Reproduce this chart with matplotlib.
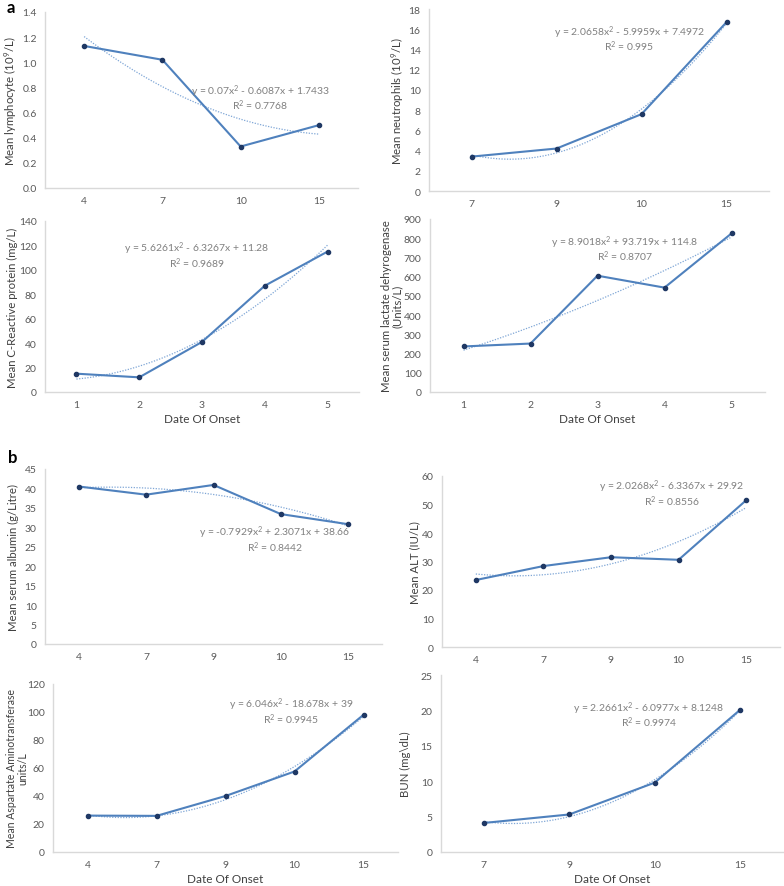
#!/usr/bin/env python3
"""
Laboratory parameters vs date of onset, with Excel-style polynomial trendlines.
"""
import numpy as np
import matplotlib
matplotlib.use('Agg')
import matplotlib.pyplot as plt

plt.rcParams['font.family'] = ['Lato', 'DejaVu Sans']
plt.rcParams['mathtext.fontset'] = 'custom'
plt.rcParams['mathtext.rm'] = 'Lato'
plt.rcParams['mathtext.default'] = 'rm'

W, H = 784, 887

# ---- data ----
lym_days = ['4', '7', '10', '15']
lym_vals = [1.13, 1.02, 0.33, 0.50]
lym_fit = [0.07, -0.6087, 1.7433]

neu_days = ['7', '9', '10', '15']
neu_vals = [3.4, 4.2, 7.6, 16.7]
neu_fit = [2.0658, -5.9959, 7.4972]

crp_days = ['1', '2', '3', '4', '5']
crp_vals = [15, 12, 41, 87, 115]
crp_fit = [5.6261, -6.3267, 11.28]

ldh_days = ['1', '2', '3', '4', '5']
ldh_vals = [237, 252, 605, 543, 825]
ldh_fit = [8.9018, 93.719, 114.8]

alb_days = ['4', '7', '9', '10', '15']
alb_vals = [40.5, 38.4, 40.9, 33.4, 30.8]
alb_fit = [-0.7929, 2.3071, 38.66]

alt_days = ['4', '7', '9', '10', '15']
alt_vals = [23.5, 28.4, 31.5, 30.6, 51.5]
alt_fit = [2.0268, -6.3367, 29.92]

ast_days = ['4', '7', '9', '10', '15']
ast_vals = [26, 25.8, 40, 57.5, 98]
ast_fit = [6.046, -18.678, 39]

bun_days = ['7', '9', '10', '15']
bun_vals = [4.1, 5.3, 9.8, 20.1]
bun_fit = [2.2661, -6.0977, 8.1248]

LINE = '#4F81BD'
MARK = '#1F3864'
TREND = '#7FA6D6'
AXCOL = '#D9D9D9'
TXT = '#404040'
EQ = '#808080'


def add_axes(fig, x0, y0, x1, y1):
    return fig.add_axes([x0 / W, 1 - y1 / H, (x1 - x0) / W, (y1 - y0) / H])


def panel(ax, days, vals, fit, yticks, ylabel, eq, r2, eqpos, fmt='{:g}', xlabel=None,
          ylabel_px=None, ylabel_size=8.2):
    n = len(days)
    idx = np.arange(n)
    xs = np.linspace(1, n, 200)
    ax.plot(xs - 1, np.polyval(fit, xs), ls=(0, (1, 1.2)), color=TREND, lw=0.9, zorder=2)
    ax.plot(idx, vals, color=LINE, lw=1.5, marker='o', ms=3.0,
            markerfacecolor=MARK, markeredgecolor=MARK, zorder=3)
    ax.set_xlim(-0.5, n - 0.5)
    ax.set_ylim(yticks[0], yticks[-1])
    ax.set_xticks(idx)
    ax.set_xticklabels(days)
    ax.set_yticks(yticks)
    ax.set_yticklabels([fmt.format(v) for v in yticks])
    ax.tick_params(length=0, labelsize=7.5, colors='#595959', pad=6)
    for s in ['top', 'right']:
        ax.spines[s].set_visible(False)
    for s in ['left', 'bottom']:
        ax.spines[s].set_color(AXCOL)
        ax.spines[s].set_linewidth(1.0)
    ax.set_ylabel(ylabel, fontsize=ylabel_size, color=TXT, linespacing=1.05)
    if ylabel_px is not None:
        # right edge of the rotated label, in figure pixels from the left
        x0 = ax.get_position().x0 * W
        wpx = ax.get_position().width * W
        ax.yaxis.set_label_coords((ylabel_px - x0) / wpx, 0.5)
    if xlabel:
        ax.set_xlabel(xlabel, fontsize=8.5, color=TXT, labelpad=3)
    ax.annotate(eq, xy=eqpos, xytext=(0, 5.2), textcoords='offset points',
                ha='center', va='center', fontsize=7.5, color=EQ)
    ax.annotate(r2, xy=eqpos, xytext=(0, -5.2), textcoords='offset points',
                ha='center', va='center', fontsize=7.5, color=EQ)
    ax.patch.set_alpha(0)


fig = plt.figure(figsize=(W / 100, H / 100), dpi=100)

ax1 = add_axes(fig, 45, 13, 358, 189)
panel(ax1, lym_days, lym_vals, lym_fit, np.arange(0, 1.41, 0.2),
      'Mean lymphocyte (10$^{9}$/L)', 'y = 0.07x$^{2}$ - 0.6087x + 1.7433', 'R$^{2}$ = 0.7768',
      (2.25, 0.72), fmt='{:.1f}', ylabel_px=19)

ax2 = add_axes(fig, 429, 10, 769, 192)
panel(ax2, neu_days, neu_vals, neu_fit, np.arange(0, 19, 2),
      'Mean neutrophils (10$^{9}$/L)', 'y = 2.0658x$^{2}$ - 5.9959x + 7.4972', 'R$^{2}$ = 0.995',
      (1.86, 15.05), ylabel_px=406)

ax3 = add_axes(fig, 45, 222, 359, 393)
panel(ax3, crp_days, crp_vals, crp_fit, np.arange(0, 141, 20),
      'Mean C-Reactive protein (mg/L)', 'y = 5.6261x$^{2}$ - 6.3267x + 11.28', 'R$^{2}$ = 0.9689',
      (1.92, 112), xlabel='Date Of Onset', ylabel_px=18)

ax4 = add_axes(fig, 430, 220, 765, 393)
panel(ax4, ldh_days, ldh_vals, ldh_fit, np.arange(0, 901, 100),
      'Mean serum lactate dehyrogenase\n(Units/L)', 'y = 8.9018x$^{2}$ + 93.719x + 114.8',
      'R$^{2}$ = 0.8707', (2.41, 746), xlabel='Date Of Onset', ylabel_px=403)

ax5 = add_axes(fig, 45, 470, 382, 645)
panel(ax5, alb_days, alb_vals, alb_fit, np.arange(0, 46, 5),
      'Mean serum albumin (g/Litre)', 'y = -0.7929x$^{2}$ + 2.3071x + 38.66', 'R$^{2}$ = 0.8442',
      (2.91, 27.0), ylabel_px=19)

ax6 = add_axes(fig, 442, 477, 780, 648)
panel(ax6, alt_days, alt_vals, alt_fit, np.arange(0, 61, 10),
      'Mean ALT (IU/L)', 'y = 2.0268x$^{2}$ - 6.3367x + 29.92', 'R$^{2}$ = 0.8556',
      (2.9, 54.0), ylabel_px=420)

ax7 = add_axes(fig, 53, 685, 398, 853)
panel(ax7, ast_days, ast_vals, ast_fit, np.arange(0, 121, 20),
      'Mean Aspartate Aminotransferase\nunits/L', 'y = 6.046x$^{2}$ - 18.678x + 39', 'R$^{2}$ = 0.9945',
      (2.95, 100.7), xlabel='Date Of Onset', ylabel_px=28, ylabel_size=7.6)

ax8 = add_axes(fig, 441, 676, 783, 853)
panel(ax8, bun_days, bun_vals, bun_fit, np.arange(0, 26, 5),
      'BUN (mg\\dL)', 'y = 2.2661x$^{2}$ - 6.0977x + 8.1248', 'R$^{2}$ = 0.9974',
      (1.93, 19.4), xlabel='Date Of Onset', ylabel_px=411)

fig.text(7 / W, 1 - 8 / H, 'a', fontsize=12, fontweight='bold', va='center', ha='left')
fig.text(8 / W, 1 - 458 / H, 'b', fontsize=12, fontweight='bold', va='center', ha='left')

fig.savefig('out.png', dpi=100)
